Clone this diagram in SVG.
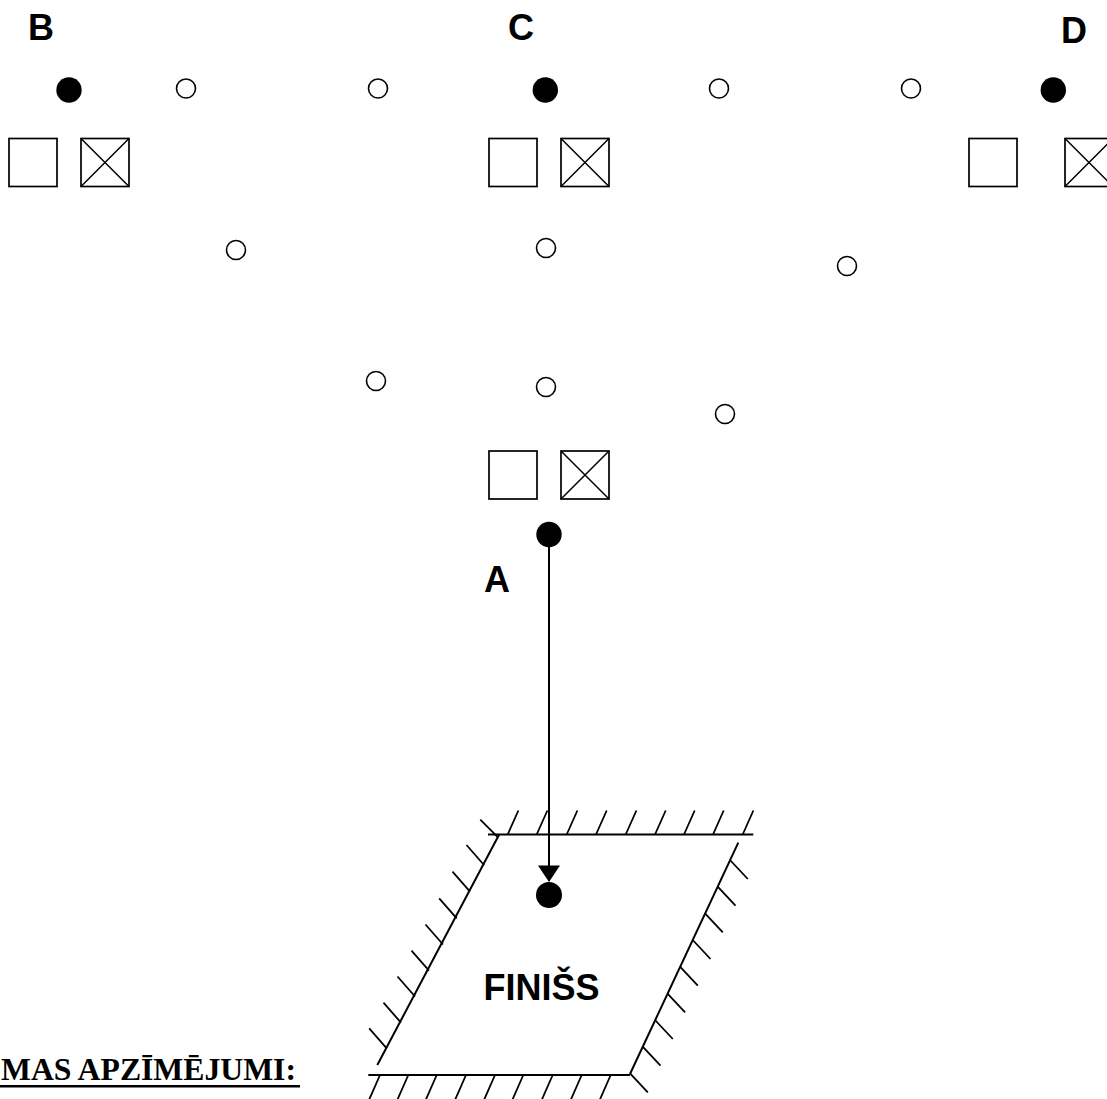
<svg xmlns="http://www.w3.org/2000/svg" width="1107" height="1099" viewBox="0 0 1107 1099">
<defs>
<style>
.lbl{font-family:"Liberation Sans",Arial,sans-serif;font-weight:bold;font-size:36px;fill:#000}
.leg{font-family:"Liberation Serif","Times New Roman",serif;font-weight:bold;font-size:31px;fill:#000}
.dot{fill:#000}
.ring{fill:#fff;stroke:#000;stroke-width:1.6}
.box{fill:#fff;stroke:#000;stroke-width:1.7}
.ln{stroke:#000;stroke-width:2;fill:none}
.x{stroke:#000;stroke-width:1.5;fill:none}
.h{stroke:#000;stroke-width:1.8;fill:none}
</style>
<g id="box-tpl">
<rect class="box" x="0" y="0" width="48" height="48"/>
</g>
<g id="xbox-tpl">
<rect class="box" x="0" y="0" width="48" height="48"/>
<path class="x" d="M0 0 L48 48 M48 0 L0 48"/>
</g>
</defs>
<rect width="1107" height="1099" fill="#fff"/>

<g id="connectors">
<line class="ln" x1="549" y1="534" x2="549" y2="868"/>
<polygon points="538,865.5 560,865.5 549,882" fill="#000"/>
</g>

<g id="node-B">
<text class="lbl" x="28" y="39.5">B</text>
<circle class="dot" cx="69" cy="90" r="12.7"/>
<use href="#box-tpl" x="9" y="138.5"/>
<use href="#xbox-tpl" x="81" y="138.5"/>
</g>
<g id="node-C">
<text class="lbl" x="508" y="40">C</text>
<circle class="dot" cx="545.3" cy="90" r="12.7"/>
<use href="#box-tpl" x="489" y="138.5"/>
<use href="#xbox-tpl" x="561" y="138.5"/>
</g>
<g id="node-D">
<text class="lbl" x="1061" y="43">D</text>
<circle class="dot" cx="1053.3" cy="90" r="12.7"/>
<use href="#box-tpl" x="969" y="138.5"/>
<use href="#xbox-tpl" x="1065" y="138.5"/>
</g>
<g id="node-A">
<use href="#box-tpl" x="489" y="451"/>
<use href="#xbox-tpl" x="561" y="451"/>
<circle class="dot" cx="549" cy="534.5" r="12.7"/>
<text class="lbl" x="484" y="592">A</text>
</g>

<g id="cones">
<circle class="ring" cx="186" cy="88.5" r="9.5"/>
<circle class="ring" cx="378" cy="88.5" r="9.5"/>
<circle class="ring" cx="719" cy="88.5" r="9.5"/>
<circle class="ring" cx="911" cy="88.5" r="9.5"/>
<circle class="ring" cx="236" cy="250" r="9.5"/>
<circle class="ring" cx="546" cy="248" r="9.5"/>
<circle class="ring" cx="847" cy="266" r="9.5"/>
<circle class="ring" cx="376" cy="381" r="9.5"/>
<circle class="ring" cx="546" cy="387" r="9.5"/>
<circle class="ring" cx="725" cy="414" r="9.5"/>
</g>

<g id="node-finish">
<path class="ln" d="M488 834.5 H753.3"/>
<path class="ln" d="M499.3 834.3 L377.3 1065"/>
<path class="ln" d="M738.3 842.7 L630 1074"/>
<path class="ln" d="M368.3 1075 H630"/>
<path class="h" d="M507.7 834.5 l10.7 -24 M536.7 834.5 l10.7 -24 M566.7 834.5 l10.7 -24 M596 834.5 l10.7 -24 M625.7 834.5 l10.7 -24 M655 834.5 l10.7 -24 M684 834.5 l10.7 -24 M713 834.5 l10.7 -24 M742.7 834.5 l10.7 -24"/>
<path class="h" d="M498.3 837.7 l-18 -18 M484 865 l-17.5 -20 M470 891.7 l-17.5 -20 M456.7 918.3 l-17.5 -20 M443 944.5 l-17.5 -20 M429 970.7 l-17.5 -20 M415 996.5 l-17.5 -20 M401 1022.7 l-17.5 -20 M386.7 1048.3 l-17.5 -20"/>
<path class="h" d="M730 860 l17.8 19 M717.7 886.7 l17.8 19 M705 913.3 l17.8 19 M692.7 940 l17.8 19 M680 966.7 l17.8 19 M667.3 993.3 l17.8 19 M655 1020 l17.8 19 M642.7 1046.7 l17.8 19 M630 1073.3 l17.8 19"/>
<path class="h" d="M380 1075 l-11 25 M408.3 1075 l-11 25 M436.7 1075 l-11 25 M466 1075 l-11 25 M495 1075 l-11 25 M523.3 1075 l-11 25 M552.7 1075 l-11 25 M581.7 1075 l-11 25 M610.7 1075 l-11 25"/>
<circle class="dot" cx="549" cy="895" r="13"/>
<text class="lbl" x="483.5" y="1000">FINIŠS</text>
</g>

<g id="legend">
<text class="leg" x="1" y="1080" textLength="295" lengthAdjust="spacingAndGlyphs">MAS APZĪMĒJUMI:</text>
<rect x="0" y="1085" width="300" height="2.5" fill="#000"/>
</g>
</svg>
